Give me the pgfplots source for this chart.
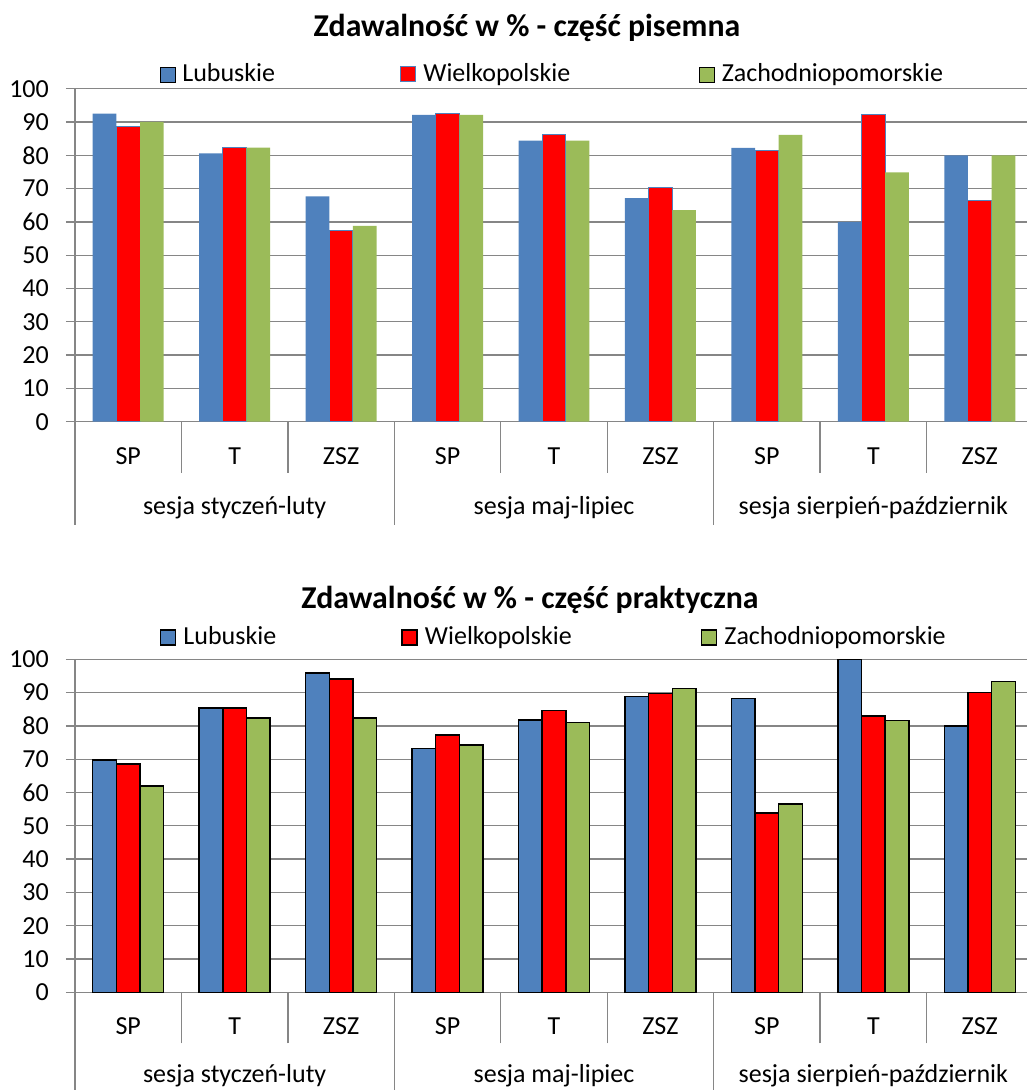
\documentclass[border=0pt]{standalone}
\usepackage{fontspec}
\setmainfont{Carlito}
\usepackage{pgfplots}
\pgfplotsset{compat=1.18}
\definecolor{cblue}{HTML}{4F81BD}
\definecolor{cred}{HTML}{FF0000}
\definecolor{cgreen}{HTML}{9BBB59}
\definecolor{cgrid}{HTML}{868686}
\newcommand{\nf}{\fontsize{26}{30}\selectfont}
\newcommand{\tf}{\fontsize{31.8}{36}\selectfont\bfseries}
\pgfplotsset{
  mybase/.style={
    scale only axis, width=958pt, height=333pt,
    xmin=-0.5, xmax=8.5, ymin=0, ymax=100,
    clip=false,
    ytick={0,10,...,100},
    axis lines*=left,
    axis line style={cgrid, line width=1.3pt},
    ymajorgrids, grid style={cgrid, line width=1.3pt},
    tick align=outside,
    major tick length=9pt,
    minor tick length=51pt,
    ytick style={cgrid, line width=1.3pt},
    xtick={0,...,8},
    xticklabels={SP,T,ZSZ,SP,T,ZSZ,SP,T,ZSZ},
    major x tick style={draw=none},
    minor xtick={-0.5,0.5,...,8.5},
    minor x tick style={cgrid, line width=1.3pt},
    tick label style={font=\nf},
    /pgf/number format/assume math mode=true,
    yticklabel style={anchor=east, inner sep=0pt, xshift=-17pt},
    xticklabel style={anchor=base, inner sep=0pt, yshift=-33.6pt},
    legend columns=3,
    legend cell align=left,
    legend style={draw=none, fill=none, inner sep=0pt, outer sep=0pt,
      anchor=west, column sep=7pt,
      nodes={inner sep=0pt, anchor=base west, font=\nf}},
  },
  sqlegend/.style={legend image code/.code={\draw[##1] (0pt,0pt) rectangle (15pt,15pt);}},
  topblue/.style={ybar, bar width=0.2223, bar shift=-0.2223, fill=cblue, draw=none, sqlegend},
  topred/.style={ybar, bar width=0.2223, bar shift=0, fill=cred, draw=cblue, line width=1pt, sqlegend},
  topgreen/.style={ybar, bar width=0.2223, bar shift=0.2223, fill=cgreen, draw=none, sqlegend},
  botblue/.style={ybar, bar width=0.2223, bar shift=-0.2223, fill=cblue, draw=black, line width=1.5pt, sqlegend},
  botred/.style={ybar, bar width=0.2223, bar shift=0, fill=cred, draw=black, line width=1.5pt, sqlegend},
  botgreen/.style={ybar, bar width=0.2223, bar shift=0.2223, fill=cgreen, draw=black, line width=1.5pt, sqlegend},
}
\begin{document}
\begin{tikzpicture}
\useasboundingbox (0,0) rectangle (1027pt,1090pt);
% ---------------- top chart ----------------
\begin{axis}[mybase, at={(75pt,668.3pt)}, anchor=south west,
  legend style={at={(axis description cs:0.0887,1.0456)}}]
\addplot[topblue] coordinates {(0,92.5) (1,80.6) (2,67.7) (3,92.1) (4,84.4) (5,67.1) (6,82.2) (7,60) (8,80)};
\addlegendentry{\makebox[211pt][l]{Lubuskie}}
\addplot[topred] coordinates {(0,88.6) (1,82.3) (2,57.3) (3,92.6) (4,86.1) (5,70.4) (6,81.3) (7,92.1) (8,66.5)};
\addlegendentry{\makebox[269pt][l]{Wielkopolskie}}
\addplot[topgreen] coordinates {(0,90) (1,82.3) (2,58.8) (3,92.1) (4,84.4) (5,63.5) (6,86.1) (7,74.9) (8,80)};
\addlegendentry{Zachodniopomorskie}
\pgfplotsinvokeforeach{-0.5,2.5,5.5,8.5}{\draw[cgrid, line width=1.3pt] (axis cs:#1,0) -- ++(0pt,-103.3pt);}
\node[anchor=base, font=\nf, inner sep=0pt, yshift=-93.3pt] at (axis cs:1,0) {sesja styczeń-luty};
\node[anchor=base, font=\nf, inner sep=0pt, yshift=-93.3pt] at (axis cs:4,0) {sesja maj-lipiec};
\node[anchor=base, font=\nf, inner sep=0pt, yshift=-93.3pt] at (axis cs:7,0) {sesja sierpień-październik};
\end{axis}
% ---------------- bottom chart ----------------
\begin{axis}[mybase, at={(75pt,97.7pt)}, anchor=south west,
  legend style={at={(axis description cs:0.0887,1.0685)}}]
\addplot[botblue] coordinates {(0,69.7) (1,85.4) (2,95.9) (3,73.2) (4,81.8) (5,88.9) (6,88.2) (7,100) (8,80)};
\addlegendentry{\makebox[211pt][l]{Lubuskie}}
\addplot[botred] coordinates {(0,68.5) (1,85.4) (2,94.1) (3,77.3) (4,84.6) (5,89.8) (6,53.9) (7,83) (8,90)};
\addlegendentry{\makebox[269pt][l]{Wielkopolskie}}
\addplot[botgreen] coordinates {(0,62) (1,82.3) (2,82.3) (3,74.3) (4,81) (5,91.3) (6,56.5) (7,81.6) (8,93.3)};
\addlegendentry{Zachodniopomorskie}
\pgfplotsinvokeforeach{-0.5,2.5,5.5,8.5}{\draw[cgrid, line width=1.3pt] (axis cs:#1,0) -- ++(0pt,-110pt);}
\node[anchor=base, font=\nf, inner sep=0pt, yshift=-89.7pt] at (axis cs:1,0) {sesja styczeń-luty};
\node[anchor=base, font=\nf, inner sep=0pt, yshift=-89.7pt] at (axis cs:4,0) {sesja maj-lipiec};
\node[anchor=base, font=\nf, inner sep=0pt, yshift=-89.7pt] at (axis cs:7,0) {sesja sierpień-październik};
\end{axis}
% titles
\node[anchor=base, font=\tf, inner sep=0pt] at (527pt,1053.3pt) {Zdawalność w \% - część pisemna};
\node[anchor=base, font=\tf, inner sep=0pt] at (530pt,481.7pt) {Zdawalność w \% - część praktyczna};
\end{tikzpicture}
\end{document}
